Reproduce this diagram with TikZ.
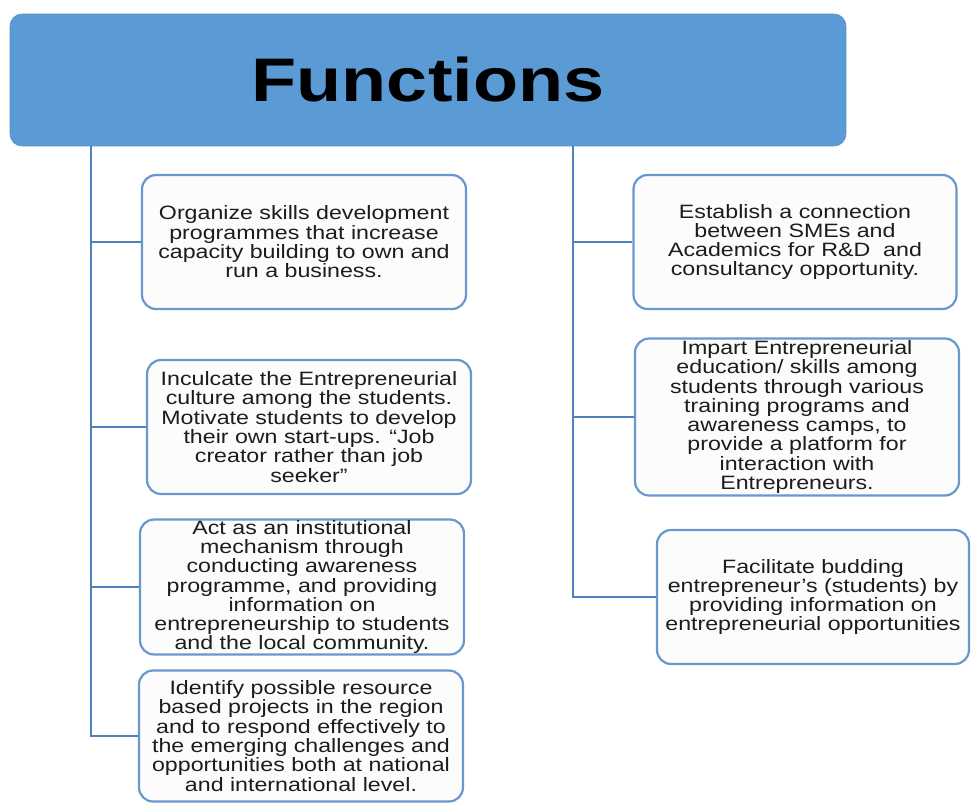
\documentclass[tikz,border=0pt]{standalone}
\usepackage{fontspec}
\setmainfont{Liberation Sans}[FakeStretch=1.2]
\usepackage{tikz}
\definecolor{headblue}{RGB}{91,155,213}
\definecolor{lineblue}{RGB}{79,129,189}
\definecolor{edgeblue}{RGB}{104,152,206}
\definecolor{boxfill}{RGB}{252,252,253}
\definecolor{boxtext}{RGB}{28,28,28}

\begin{document}
\begin{tikzpicture}[x=0.02cm,y=-0.02cm,
  headbox/.style={draw=headblue!92!black,fill=headblue,rounded corners=0.24cm,minimum width=16.72cm,minimum height=2.64cm,inner sep=0pt,font=\fontsize{35}{35}\selectfont\bfseries},
  funcbox/.style={draw=edgeblue,line width=1.25pt,fill=boxfill,rounded corners=0.28cm,minimum width=6.48cm,minimum height=2.68cm,inner sep=0pt,align=center,text=boxtext,font=\fontsize{11}{11}\selectfont},
  branch/.style={draw=lineblue,line width=1.3pt}]
\useasboundingbox (0,0) rectangle (971,802);
% Draw title box
\node[headbox] (title) at (428,80) {Functions};
% Draw left column
\node[funcbox] (l1) at (304,242) {Organize skills development\\programmes that increase\\capacity building to own and\\run a business.};
\node[funcbox] (l2) at (309,427) {Inculcate the Entrepreneurial\\culture among the students.\\Motivate students to develop\\their own start-ups. “Job\\creator rather than job\\seeker”};
\node[funcbox,minimum height=2.7cm] (l3) at (302,587) {Act as an institutional\\mechanism through\\conducting awareness\\programme, and providing\\information on\\entrepreneurship to students\\and the local community.};
\node[funcbox,minimum height=2.62cm] (l4) at (301,736) {Identify possible resource\\based projects in the region\\and to respond effectively to\\the emerging challenges and\\opportunities both at national\\and international level.};
% Draw right column
\node[funcbox,minimum width=6.46cm] (r1) at (795,242) {Establish a connection\\between SMEs and\\Academics for R\&D\ \ and\\consultancy opportunity.};
\node[funcbox,minimum height=3.14cm] (r2) at (797,417) {Impart Entrepreneurial\\education/ skills among\\students through various\\training programs and\\awareness camps, to\\provide a platform for\\interaction with\\Entrepreneurs.};
\node[funcbox,minimum width=6.24cm] (r3) at (813,597) {Facilitate budding\\entrepreneur’s (students) by\\providing information on\\entrepreneurial opportunities};
% Draw trunks and branches
\coordinate (ltop) at (91,146);
\coordinate (rtop) at (573,146);
\draw[branch] (ltop) |- (l4.west);
\foreach \n in {l1,l2,l3}
  \draw[branch] (ltop |- \n.west) -- (\n.west);
\draw[branch] (rtop) |- (r3.west);
\foreach \n in {r1,r2}
  \draw[branch] (rtop |- \n.west) -- (\n.west);
\end{tikzpicture}
\end{document}
